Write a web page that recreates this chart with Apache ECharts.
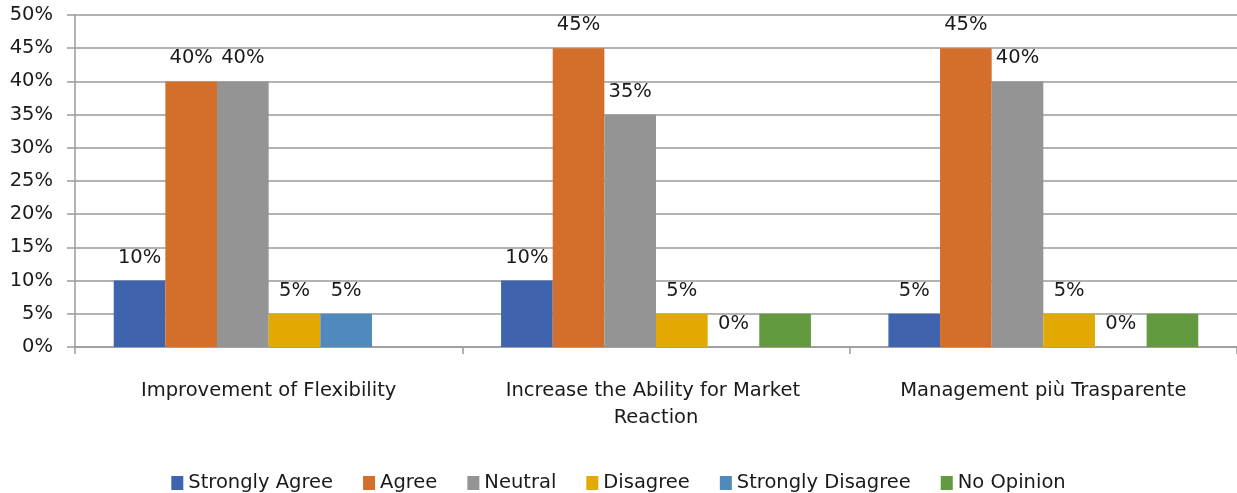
<!DOCTYPE html>
<html><head><meta charset="utf-8">
<script src="https://cdn.jsdelivr.net/npm/echarts@6/dist/echarts.min.js"></script>
<style>html,body{margin:0;padding:0;background:#fff}#c{width:1237px;height:493px}</style>
</head><body><div id="c"></div>
<script>
const categories = ['Improvement of Flexibility', 'Increase the Ability for Market Reaction', 'Management più Trasparente'];
const seriesNames = ['Strongly Agree', 'Agree', 'Neutral', 'Disagree', 'Strongly Disagree', 'No Opinion'];
const stronglyAgree = [10, 10, 5];
const agree = [40, 45, 45];
const neutral = [40, 35, 40];
const disagree = [5, 5, 5];
const stronglyDisagree = [5, 0, 0];
const noOpinion = [null, 5, 5];
const yTicks = [0, 5, 10, 15, 20, 25, 30, 35, 40, 45, 50];

const colors = ['#3F64AD', '#D36E2B', '#949494', '#E2A900', '#4F89BD', '#649A3F'];
const values = [stronglyAgree, agree, neutral, disagree, stronglyDisagree, noOpinion];
const FONT = 'DejaVu Sans';
const FS = 19.5;

const chart = echarts.init(document.getElementById('c'), null, {renderer: 'canvas'});
chart.setOption({
  animation: false,
  color: colors,
  textStyle: {fontFamily: FONT},
  grid: {left: 75, right: 0, top: 15, bottom: 146, containLabel: false},
  legend: {
    top: 468, left: 'center', itemWidth: 12, itemHeight: 14, itemGap: 30,
    icon: 'rect',
    textStyle: {fontFamily: FONT, fontSize: FS, color: '#1a1a1a', padding: [0, 0, 0, 0]},
    data: seriesNames
  },
  xAxis: {
    type: 'category', data: categories,
    axisLine: {lineStyle: {color: '#9a9a9a', width: 1.5}},
    axisTick: {show: true, interval: 0, length: 7, lineStyle: {color: '#9a9a9a', width: 1.5}},
    axisLabel: {interval: 0, fontFamily: FONT, fontSize: FS, color: '#1a1a1a', margin: 30, width: 340, overflow: 'break', lineHeight: 27}
  },
  yAxis: {
    type: 'value', min: 0, max: 50, interval: 5,
    axisLine: {show: true, lineStyle: {color: '#9a9a9a', width: 1.5}},
    axisTick: {show: true, length: 8, lineStyle: {color: '#9a9a9a', width: 1.5}},
    splitLine: {lineStyle: {color: '#9a9a9a', width: 1.5}},
    axisLabel: {fontFamily: FONT, fontSize: FS, color: '#1a1a1a', margin: 22, formatter: v => v + '%'}
  },
  series: seriesNames.map((n, i) => ({
    name: n, type: 'bar', data: values[i],
    barGap: '0%', barCategoryGap: '20%',
    label: {
      show: i !== 5, position: 'top', distance: 13,
      fontFamily: FONT, fontSize: FS, color: '#1a1a1a',
      formatter: p => p.value + '%'
    }
  }))
});
</script></body></html>
